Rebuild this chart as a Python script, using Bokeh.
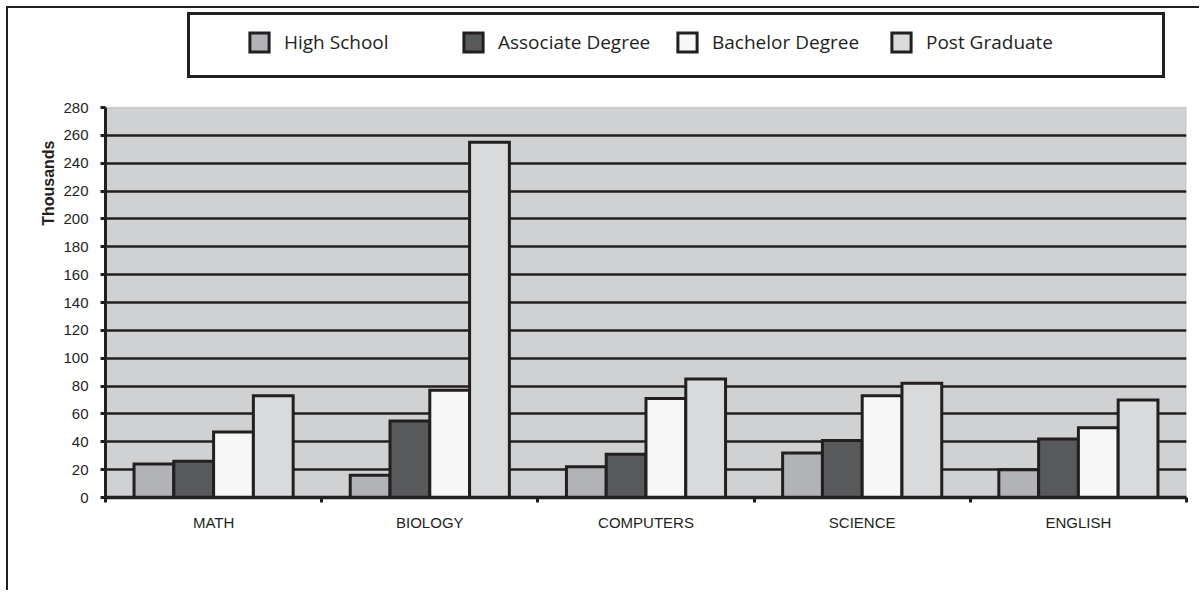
from bokeh.plotting import figure
from bokeh.models import (Range1d, FixedTicker, Legend, LegendItem, Title, BoxAnnotation,
                          ColumnDataSource)
from bokeh.transform import dodge
from bokeh.embed import file_html
from bokeh.resources import INLINE

# ---- data ----
subjects = ["MATH", "BIOLOGY", "COMPUTERS", "SCIENCE", "ENGLISH"]
series = ["High School", "Associate Degree", "Bachelor Degree", "Post Graduate"]
high_school = [24, 16, 22, 32, 20]
associate_degree = [26, 55, 31, 41, 42]
bachelor_degree = [47, 77, 71, 73, 50]
post_graduate = [73, 255, 85, 82, 70]
y_ticks = list(range(0, 281, 20))

# ---- styles / layout ----
colors = ["#b2b3b6", "#58595b", "#f7f7f7", "#d9dadc"]
ink = "#231f20"
bar_w = 0.184
offsets = [-1.5 * bar_w, -0.5 * bar_w, 0.5 * bar_w, 1.5 * bar_w]
y_max = y_ticks[-1]
plot_px = 390          # pixel height of the 0..280 plotting area
frame_px = 489         # frame height (plot area + legend space above it)

n = len(subjects)
centers = [i + 0.5 for i in range(n)]
bounds_ticks = list(range(n + 1))

src = ColumnDataSource(dict(x=centers, subject=subjects, hs=high_school, ad=associate_degree,
                            bd=bachelor_degree, pg=post_graduate))
keys = ["hs", "ad", "bd", "pg"]

p = figure(x_range=Range1d(0, n), y_range=Range1d(0, y_max * frame_px / plot_px),
           width=1193, height=584, output_backend="svg", toolbar_location=None,
           title=None, min_border_left=97, min_border_top=0,
           min_border_right=15, min_border_bottom=95)
p.styles = {"margin": "6px 0px 0px 6px", "border-style": "solid none none solid",
            "border-width": "2px", "border-color": ink}

p.background_fill_color = "white"
p.border_fill_color = "white"
p.outline_line_color = None

# plotting area background with grey top/right edge
p.add_layout(BoxAnnotation(bottom=0, top=y_max, fill_color="#d0d1d3", fill_alpha=1,
                           line_color="#9c9da0", line_width=2, level="image"))

p.xgrid.visible = False
p.ygrid.ticker = FixedTicker(ticks=y_ticks[1:-1])
p.ygrid.grid_line_color = ink
p.ygrid.grid_line_width = 2.6

renderers = []
for k, off, c in zip(keys, offsets, colors):
    r = p.vbar(x=dodge("x", off), top=k, width=bar_w, source=src,
               fill_color=c, line_color=ink, line_width=3, line_join="miter")
    renderers.append(r)

# y axis
ya = p.yaxis[0]
ya.ticker = FixedTicker(ticks=y_ticks)
ya.bounds = (0, y_max)
ya.axis_line_color = ink
ya.axis_line_width = 3
ya.major_tick_line_color = ink
ya.major_tick_line_width = 3
ya.major_tick_out = 5
ya.major_tick_in = 0
ya.minor_tick_line_color = None
ya.major_label_text_font = "Liberation Sans"
ya.major_label_text_font_size = "15px"
ya.major_label_text_color = ink
ya.major_label_standoff = 12

# x axis: category labels at centers, ticks at category boundaries
xa = p.xaxis[0]
xa.ticker = FixedTicker(ticks=centers, minor_ticks=bounds_ticks)
xa.major_label_overrides = {c: s for c, s in zip(centers, subjects)}
xa.axis_line_color = ink
xa.axis_line_width = 3.5
xa.major_tick_line_color = None
xa.major_tick_out = 0
xa.major_tick_in = 0
xa.minor_tick_line_color = ink
xa.minor_tick_line_width = 3
xa.minor_tick_out = 5
xa.minor_tick_in = 0
xa.major_label_text_font = "Liberation Sans"
xa.major_label_text_font_size = "15px"
xa.major_label_text_color = ink
xa.major_label_standoff = 11

# y axis title
p.add_layout(Title(text="Thousands", align="right", offset=132, standoff=8,
                   text_font="Liberation Sans", text_font_style="bold",
                   text_font_size="16px", text_color=ink), "left")

# legend box
dummy = p.vbar(x=[], top=[], width=0.1, fill_alpha=0, line_alpha=0)
box = Legend(items=[LegendItem(label=" ", renderers=[dummy])], location=(81.5, 419.5),
             orientation="horizontal", padding=0, spacing=0, margin=0,
             glyph_width=10, glyph_height=60, label_width=962, label_height=60,
             label_standoff=0, border_line_color=ink, border_line_width=3,
             border_line_alpha=1,
             background_fill_color="white", background_fill_alpha=1)
p.add_layout(box, "center")

leg = Legend(items=[LegendItem(label=s, renderers=[r]) for s, r in zip(series, renderers)],
             location=(142, 442), orientation="horizontal", padding=0, spacing=0, margin=0,
             glyph_width=24, glyph_height=24, label_width=177, label_height=24,
             label_standoff=13, border_line_color=None, background_fill_alpha=0,
             label_text_font="Open Sans", label_text_font_size="19px",
             label_text_color=ink)
p.add_layout(leg, "center")

open("out.html", "w").write(file_html(p, INLINE))
